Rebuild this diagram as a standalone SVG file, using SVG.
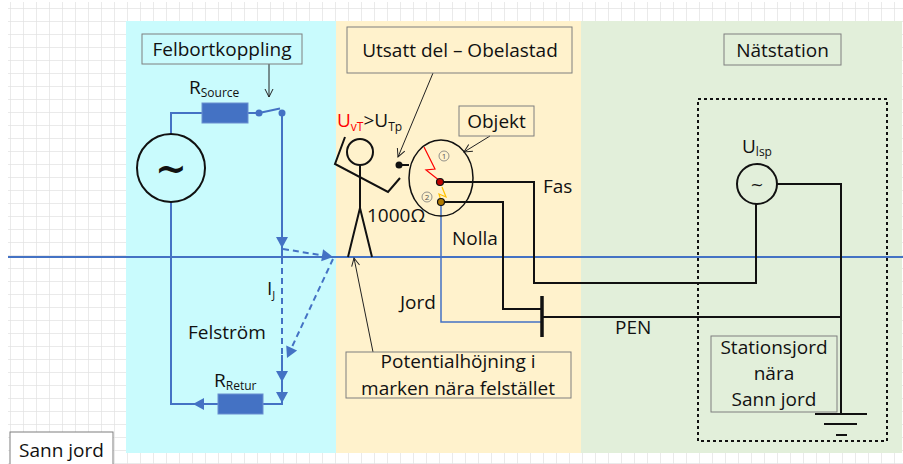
<svg xmlns="http://www.w3.org/2000/svg" xmlns:xlink="http://www.w3.org/1999/xlink" width="903" height="464" viewBox="0 0 903 464">
  <style>
    .t { font-family: "Open Sans", "Liberation Sans", sans-serif; font-size: 19px; fill: #111; }
    .mid { text-anchor: middle; }
    .box { fill: none; stroke: #7f7f7f; stroke-width: 1; }
    .blue { fill: none; stroke: #4472c4; stroke-width: 2; }
    .dash { fill: none; stroke: #4472c4; stroke-width: 2; stroke-dasharray: 6 4; }
    .wire { fill: none; stroke: #111; stroke-width: 2; }
    .ptr { fill: none; stroke: #222; stroke-width: 1; marker-end: url(#open); }
    .res { fill: #4472c4; stroke: #6a8fd0; stroke-width: 1; }
    .tilde { font-family: "DejaVu Sans", sans-serif; fill: #111; text-anchor: middle; }
  </style>
  <defs>
    <pattern id="grid" x="10" y="8" width="13" height="13" patternUnits="userSpaceOnUse">
      <path d="M0,0 V13 M0,0 H13" fill="none" stroke="#e3e3e3" stroke-width="1.5"/>
    </pattern>
    <marker id="open" viewBox="0 0 10 10" refX="9" refY="5" markerWidth="10" markerHeight="10" markerUnits="userSpaceOnUse" orient="auto">
      <path d="M1,1 L9,5 L1,9" fill="none" stroke="#222" stroke-width="1"/>
    </marker>
    <path id="tri" d="M0,0 L-11,-6 L-11,6 Z" fill="#4472c4"/>
  </defs>

  <!-- background grid -->
  <rect x="0" y="0" width="903" height="464" fill="#fff"/>
  <rect x="8" y="2" width="895" height="462" fill="url(#grid)"/>

  <!-- zones -->
  <rect x="126" y="21" width="210" height="432" fill="#c9fbfd"/>
  <rect x="336" y="21" width="245" height="432" fill="#fff2cc"/>
  <rect x="581" y="21" width="321" height="432" fill="#e2efda"/>

  <!-- ground level line -->
  <line x1="8" y1="257" x2="903" y2="257" stroke="#4472c4" stroke-width="2"/>

  <g id="connectors">
    <!-- fault disconnection circuit -->
    <path class="blue" d="M202,113 H171 V134"/>
    <path class="blue" d="M171,202 V404 H218"/>
    <path class="blue" d="M248,113 H259"/>
    <path class="blue" d="M259,113 L280,108.5"/>
    <path class="blue" d="M282,113 V257"/>
    <path class="dash" d="M282,258 V355"/>
    <path class="blue" d="M282,355 V404 H263"/>
    <path class="dash" d="M283,249 L323,255.5"/>
    <path class="dash" d="M333,259 L291,349"/>
    <use xlink:href="#tri" transform="translate(282,248) rotate(90)"/>
    <use xlink:href="#tri" transform="translate(282,382) rotate(90)"/>
    <use xlink:href="#tri" transform="translate(282,403) rotate(90)"/>
    <use xlink:href="#tri" transform="translate(193,404) rotate(180)"/>
    <use xlink:href="#tri" transform="translate(333,257) rotate(9)"/>
    <use xlink:href="#tri" transform="translate(287,358) rotate(115)"/>

    <!-- supply wires -->
    <path class="wire" d="M440,182 H534 V283 H756 V204"/>
    <path class="wire" d="M441,202 H503 V309 H542"/>
    <path d="M441,202 V322 H542" fill="none" stroke="#4472c4" stroke-width="1.5"/>
    <line x1="542" y1="296" x2="542" y2="337" stroke="#111" stroke-width="3.5"/>
    <path class="wire" d="M542,317 H841"/>
    <path class="wire" d="M777,184 H841 V414"/>
    <line x1="399" y1="165" x2="409" y2="165" stroke="#111" stroke-width="2"/>

    <!-- pointer arrows -->
    <path class="ptr" d="M269,64 V97"/>
    <path class="ptr" d="M433,73 L398,157"/>
    <path class="ptr" d="M490,136 L464,152"/>
    <path class="ptr" d="M373,352 L354,258"/>
  </g>

  <g id="felbortkoppling">
    <rect class="box" x="142" y="34" width="160" height="30"/>
    <text class="t mid" x="222" y="56">Felbortkoppling</text>
  </g>

  <g id="r-source">
    <text class="t" x="189" y="94" font-size="18">R<tspan font-size="12" dy="3">Source</tspan></text>
    <rect class="res" x="202" y="103" width="46" height="20"/>
    <circle cx="259" cy="113" r="3.5" fill="#4472c4"/>
    <circle cx="282" cy="113" r="3.5" fill="#4472c4"/>
  </g>

  <g id="source">
    <circle cx="171" cy="168" r="34" fill="none" stroke="#111" stroke-width="2"/>
    <text class="tilde" x="171" y="181" font-size="38" font-weight="bold">~</text>
  </g>

  <g id="felstrom">
    <text class="t" x="267" y="295" font-size="18">I<tspan font-size="11" dy="4">J</tspan></text>
    <text class="t" x="188" y="339">Felström</text>
  </g>

  <g id="r-retur">
    <text class="t" x="214" y="387" font-size="18">R<tspan font-size="12" dy="3">Retur</tspan></text>
    <rect class="res" x="218" y="394" width="45" height="20"/>
  </g>

  <g id="utsatt-del">
    <rect class="box" x="347" y="27" width="225" height="46"/>
    <text class="t mid" x="460" y="57">Utsatt del – Obelastad</text>
  </g>

  <g id="person">
    <text class="t" x="337" y="127" font-size="19"><tspan fill="#ff0000">U</tspan><tspan fill="#ff0000" font-size="12" dy="4">vT</tspan><tspan dy="-4">&gt;U</tspan><tspan font-size="12" dy="4">Tp</tspan></text>
    <circle cx="360" cy="152" r="13" fill="none" stroke="#111" stroke-width="2"/>
    <path class="wire" d="M360,165 V210 M360,208 L348,257 M360,208 L372,257 M345,137 L335,164 L388,192 L400,178"/>
    <text class="t" x="367" y="222" font-size="16">1000Ω</text>
  </g>

  <g id="objekt">
    <circle cx="399" cy="165" r="3.5" fill="#111"/>
    <ellipse cx="441" cy="178" rx="32" ry="38" fill="none" stroke="#111" stroke-width="1.5"/>
    <rect class="box" x="459" y="106" width="75" height="30"/>
    <text class="t mid" x="496.5" y="128">Objekt</text>
    <circle cx="444" cy="156" r="5" fill="none" stroke="#777" stroke-width="0.8"/>
    <text x="444" y="159" font-family="'Open Sans', sans-serif" font-size="8" fill="#555" text-anchor="middle">1</text>
    <circle cx="427" cy="197" r="5" fill="none" stroke="#777" stroke-width="0.8"/>
    <text x="427" y="200" font-family="'Open Sans', sans-serif" font-size="8" fill="#555" text-anchor="middle">2</text>
    <path d="M424,147 L435,169 L426,170 L440,181" fill="none" stroke="#ff0000" stroke-width="1.2"/>
    <path d="M442,187 L446,197 L439,194 L441,201" fill="none" stroke="#ffc000" stroke-width="1.2"/>
    <circle cx="440" cy="182" r="3.5" fill="#c00000" stroke="#111" stroke-width="1.2"/>
    <circle cx="441" cy="202" r="3.5" fill="#b07a00" stroke="#111" stroke-width="1.2"/>
    <text class="t" x="543" y="193">Fas</text>
    <text class="t" x="452" y="245">Nolla</text>
    <text class="t" x="400" y="309">Jord</text>
  </g>

  <g id="potentialhojning">
    <rect class="box" x="346" y="352" width="225" height="46"/>
    <text class="t mid" x="458" y="368">Potentialhöjning i</text>
    <text class="t mid" x="458" y="395">marken nära felstället</text>
  </g>

  <g id="natstation">
    <rect class="box" x="724" y="34" width="117" height="31"/>
    <text class="t mid" x="782.5" y="57">Nätstation</text>
    <rect x="698" y="99" width="189" height="342" fill="none" stroke="#111" stroke-width="2" stroke-dasharray="3 3"/>
    <text class="t" x="742" y="153" font-size="18">U<tspan font-size="12" dy="3">lsp</tspan></text>
    <circle cx="757" cy="184" r="20" fill="none" stroke="#111" stroke-width="2"/>
    <text class="tilde" x="757" y="190" font-size="16">~</text>
    <text class="t" x="615" y="334">PEN</text>
  </g>

  <g id="stationsjord">
    <rect class="box" x="711" y="336" width="126" height="76"/>
    <text class="t mid" x="774" y="354">Stationsjord</text>
    <text class="t mid" x="774" y="380">nära</text>
    <text class="t mid" x="774" y="406">Sann jord</text>
    <path class="wire" d="M815,414 H867 M824,424 H857 M836,435 H847"/>
  </g>

  <g id="sann-jord">
    <rect x="10" y="432" width="103" height="40" fill="#fff" stroke="#7f7f7f" stroke-width="1"/>
    <text class="t mid" x="61.5" y="457">Sann jord</text>
  </g>
</svg>
